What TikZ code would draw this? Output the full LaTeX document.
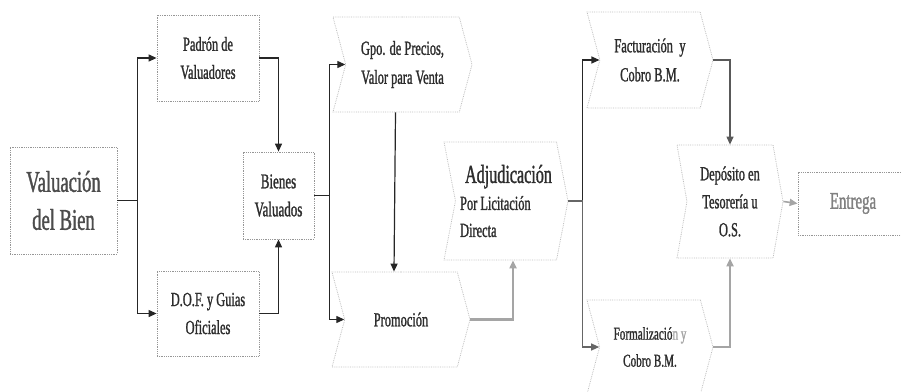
\documentclass[tikz,border=0pt]{standalone}
\usepackage{fontspec}
\setmainfont{Liberation Serif}
\newfontfamily\condfont[FakeStretch=0.62, FakeBold=1.2]{Liberation Serif}
\usetikzlibrary{arrows.meta, shapes.symbols}
\definecolor{BoxGrey}{RGB}{150, 150, 150}
\definecolor{EdgeGrey}{RGB}{190, 190, 190}
\definecolor{TextGrey}{RGB}{45, 45, 45}
\definecolor{LineGrey}{RGB}{165, 165, 165}

\begin{document}
\begin{tikzpicture}[
  x=1pt, y=-1pt,
  box/.style={
    rectangle, draw=BoxGrey, densely dotted, line width=0.8pt,
    inner sep=0pt, align=center, text=TextGrey,
    font=\condfont\fontsize{20}{28}\selectfont
  },
  chev/.style={
    signal, signal to=east, signal from=west, signal pointer angle=150,
    draw=EdgeGrey, densely dotted, line width=0.8pt,
    inner sep=0pt, align=center, text=TextGrey,
    font=\condfont\fontsize{20}{29}\selectfont
  },
  arrow/.style={-{Triangle[length=8pt, width=7pt]}, line width=1.2pt, color=black!85},
  greyarrow/.style={-{Triangle[length=8pt, width=7pt]}, line width=2.2pt, color=LineGrey},
]
\useasboundingbox (0,0) rectangle (901,391);

\node[box, minimum width=107, minimum height=107, font=\condfont\fontsize{30}{38}\selectfont, text=black!70] (val) at (63.5,200.5) {Valuación\\del Bien};
\node[box, minimum width=102, minimum height=86] (pad) at (208,58) {Padrón de\\Valuadores};
\node[box, minimum width=102, minimum height=85] (dof) at (208,313.5) {D.O.F. y Guias\\Oficiales};
\node[box, minimum width=71, minimum height=87, font=\condfont\fontsize{21}{28}\selectfont] (bv) at (278.5,195.5) {Bienes\\Valuados};
\node[chev, minimum width=139, minimum height=95] (gpo) at (402.5,64.5) {Gpo. de Precios,\\Valor para Venta};
\node[chev, minimum width=138, minimum height=95] (pro) at (401,319.5) {Promoción};
\node[chev, minimum width=124, minimum height=118, signal pointer angle=158, align=left,
  font=\condfont\fontsize{20}{27}\selectfont] (adj) at (506,201)
  {\hspace{5pt}{\fontsize{26}{27}\selectfont Adjudicación}\\Por Licitación\\Directa};
\node[chev, minimum width=126, minimum height=96, font=\condfont\fontsize{20}{29}\selectfont] (fac) at (650,60) {Facturación\, y\\Cobro B.M.};
\node[chev, minimum width=126, minimum height=94, font=\condfont\fontsize{18}{27}\selectfont] (frm) at (650,347) {Formalizació{\color{LineGrey}n y}\\Cobro B.M.};
\node[chev, minimum width=106, minimum height=113, signal pointer angle=160, font=\condfont\fontsize{20}{28}\selectfont] (dep) at (730,201.5) {Depósito en\\Tesorería u\\O.S.};
\node[box, minimum width=110, minimum height=63, font=\condfont\fontsize{24}{28}\selectfont, text=black!50] (ent) at (853,203.5) {Entrega};

% first stage
\draw[arrow] (val.east) -- ++(20,0) |- (pad.west);
\draw[arrow] (val.east) -- ++(20,0) |- (dof.west);
\draw[arrow] (pad.east) -| (bv.north);
\draw[arrow] (dof.east) -| (bv.south);
% sale
\draw[arrow] (bv.east) -- ++(15,0) |- (gpo.west);
\draw[arrow] (bv.east) -- ++(15,0) |- (pro.west);
\draw[arrow] ([xshift=-7]gpo.south) -- ([xshift=-7]pro.north);
\draw[greyarrow] (pro.east) -| ([xshift=7]adj.south);
% payment
\draw[arrow] (adj.east) -- ++(14,0) |- (fac.west);
\draw[arrow, color=black!60] (adj.east) -- ++(14,0) |- (frm.west);
\draw[arrow, color=black!65] (fac.east) -| (dep.north);
\draw[greyarrow] (frm.east) -| (dep.south);
\draw[greyarrow, line width=1.6pt] (dep.east) -- (ent.west);
\end{tikzpicture}
\end{document}
